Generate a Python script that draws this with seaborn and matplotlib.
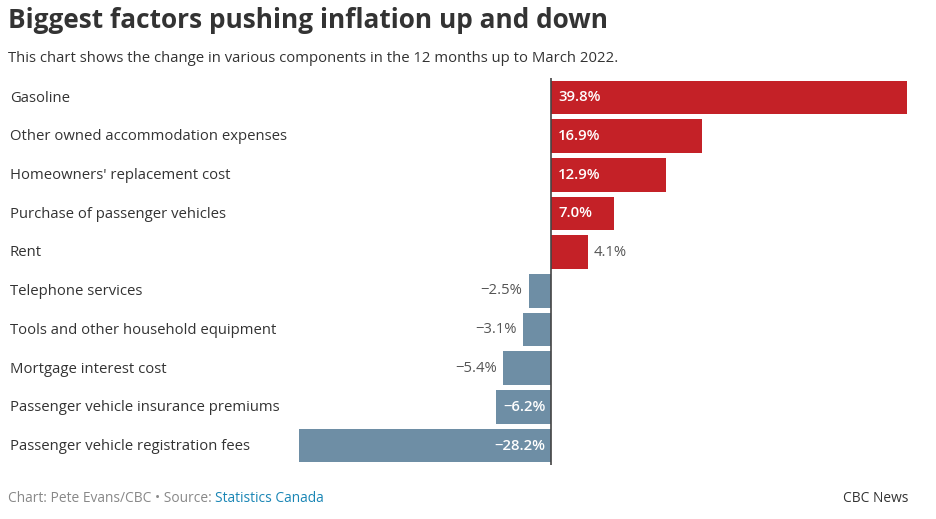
import pandas as pd
import matplotlib.pyplot as plt
import matplotlib.transforms as mtransforms
import seaborn as sns

# Data
categories = [
    "Gasoline",
    "Other owned accommodation expenses",
    "Homeowners' replacement cost",
    "Purchase of passenger vehicles",
    "Rent",
    "Telephone services",
    "Tools and other household equipment",
    "Mortgage interest cost",
    "Passenger vehicle insurance premiums",
    "Passenger vehicle registration fees",
]
changes = [39.8, 16.9, 12.9, 7.0, 4.1, -2.5, -3.1, -5.4, -6.2, -28.2]

df = pd.DataFrame({"component": categories, "change": changes})
df["direction"] = ["up" if v > 0 else "down" for v in df["change"]]

RED = "#c42127"
BLUE = "#6e8ea5"
DARK = "#333333"
GREY = "#888888"

sns.set_style("white")
plt.rcParams["font.family"] = ["Open Sans", "DejaVu Sans"]

fig = plt.figure(figsize=(9.37, 5.19), dpi=100)
ax = fig.add_axes([299 / 937, 1 - 465 / 519, (907 - 299) / 937, (465 - 78) / 519])

sns.barplot(data=df, y="component", x="change", hue="direction",
            palette={"up": RED, "down": BLUE}, order=categories,
            orient="h", width=0.87, dodge=False, legend=False,
            saturation=1, linewidth=0, ax=ax)

ax.set_xlim(-28.2, 39.8)
ax.set_ylim(len(categories) - 0.5, -0.5)
ax.set_xlabel("")
ax.set_ylabel("")
ax.set_xticks([])
ax.set_yticks([])
for s in ax.spines.values():
    s.set_visible(False)
ax.axvline(0, color="#444444", lw=1.2, zorder=5)

# Category labels along the left edge of the figure
trans = mtransforms.blended_transform_factory(fig.transFigure, ax.transData)
for i, name in enumerate(categories):
    ax.text(10 / 937, i + 0.02, name, transform=trans, ha="left", va="center",
            fontsize=10.75, color=DARK)

# Value labels
for i, v in enumerate(changes):
    lab = f"{v:.1f}%".replace("-", "\u2212")
    inside = abs(v) >= 6
    if v > 0:
        if inside:
            ax.text(0.8, i, lab, ha="left", va="center", color="white",
                    fontsize=10.75, fontweight="semibold", zorder=6)
        else:
            ax.text(v + 0.7, i, lab, ha="left", va="center", color="#555555",
                    fontsize=10.75, zorder=6)
    else:
        if inside:
            ax.text(-0.6, i, lab, ha="right", va="center", color="white",
                    fontsize=10.75, fontweight="semibold", zorder=6)
        else:
            ax.text(v - 0.7, i, lab, ha="right", va="center", color="#555555",
                    fontsize=10.75, zorder=6)

# Title, subtitle, footer
fig.text(8 / 937, 1 - 20 / 519, "Biggest factors pushing inflation up and down",
         ha="left", va="center", fontsize=18.9, fontweight="bold", color=DARK)
fig.text(8 / 937, 1 - 59 / 519,
         "This chart shows the change in various components in the 12 months up to March 2022.",
         ha="left", va="center", fontsize=10.75, color=DARK)

t1 = fig.text(8 / 937, 1 - 499 / 519, "Chart: Pete Evans/CBC \u2022 Source: ",
              ha="left", va="center", fontsize=9.9, color=GREY)
fig.canvas.draw()
bb = t1.get_window_extent()
fig.text(bb.x1 / fig.bbox.width, 1 - 499 / 519, "Statistics Canada",
         ha="left", va="center", fontsize=9.9, color="#1a86b5")
fig.text(908 / 937, 1 - 499 / 519, "CBC News", ha="right", va="center",
         fontsize=9.9, color=DARK)

fig.savefig("out.png", dpi=100, facecolor="white")
